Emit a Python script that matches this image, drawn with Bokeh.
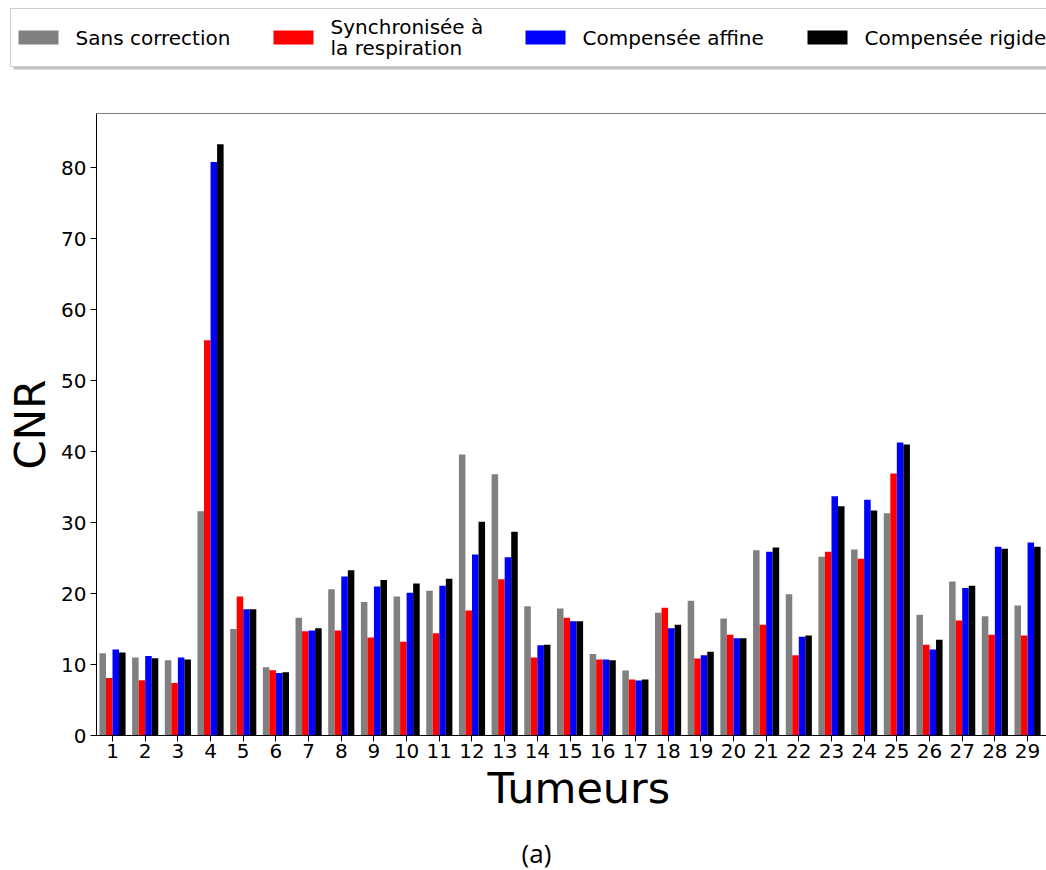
import numpy as np
from bokeh.plotting import figure
from bokeh.layouts import column
from bokeh.models import Range1d, FixedTicker, Span, Title
from bokeh.core.properties import value
from bokeh.embed import file_html
from bokeh.resources import INLINE

# ---------------- data ----------------
tumeurs = list(range(1, 30))
sans_correction = [11.6, 11.0, 10.6, 31.6, 15.0, 9.6, 16.6, 20.6, 18.8, 19.6,
                   20.4, 39.6, 36.8, 18.2, 17.9, 11.5, 9.15, 17.3, 19.0, 16.5,
                   26.1, 19.9, 25.2, 26.2, 31.3, 17.0, 21.7, 16.8, 18.3]
synchronisee = [8.1, 7.8, 7.4, 55.7, 19.6, 9.2, 14.7, 14.8, 13.8, 13.2,
                14.4, 17.6, 22.0, 11.0, 16.6, 10.7, 7.9, 18.0, 10.85, 14.2,
                15.6, 11.3, 25.9, 24.9, 36.9, 12.8, 16.2, 14.2, 14.1]
compensee_affine = [12.1, 11.2, 11.0, 80.8, 17.8, 8.8, 14.8, 22.4, 21.0, 20.1,
                    21.1, 25.5, 25.1, 12.7, 16.1, 10.7, 7.75, 15.1, 11.3, 13.7,
                    25.9, 13.9, 33.7, 33.2, 41.3, 12.1, 20.8, 26.6, 27.2]
compensee_rigide = [11.7, 10.9, 10.7, 83.3, 17.8, 8.9, 15.1, 23.3, 21.9, 21.4,
                    22.1, 30.1, 28.7, 12.8, 16.1, 10.6, 7.9, 15.6, 11.8, 13.7,
                    26.5, 14.1, 32.3, 31.7, 41.0, 13.5, 21.1, 26.3, 26.6]
series_labels = ["Sans correction", "Synchronisée à\nla respiration",
                 "Compensée affine", "Compensée rigide"]
series_colors = ["#808080", "#ff0000", "#0000ff", "#000000"]
y_ticks = [0, 10, 20, 30, 40, 50, 60, 70, 80]
x_label = "Tumeurs"
y_label = "CNR"
caption = "(a)"

FONT = value("DejaVu Sans")
W = 1046

# ---------------- legend strip (page coordinates) ----------------
lf = figure(width=W, height=78, x_range=Range1d(0, W), y_range=Range1d(78, 0),
            x_axis_type=None, y_axis_type=None, output_backend="svg",
            toolbar_location=None, min_border=0)
lf.grid.visible = False
lf.outline_line_color = None
lf.quad(left=[13], right=[1080], top=[11], bottom=[69], fill_color="#9a9a9a",
        fill_alpha=0.6, line_color=None)
lf.quad(left=[10], right=[1078], top=[8], bottom=[66], fill_color="white",
        line_color="#cccccc", line_width=1)
patch_x = [18, 273, 525, 807]
for px, lab, col in zip(patch_x, series_labels, series_colors):
    lf.quad(left=[px], right=[px + 40], top=[30], bottom=[44], fill_color=col, line_color=None)
    lines = lab.split("\n")
    ys = [37] if len(lines) == 1 else [26, 47]
    lf.text(x=[px + 57] * len(lines), y=ys, text=lines, text_font=FONT,
            text_font_size="20px", text_baseline="middle", text_align="left",
            text_color="black")

# ---------------- main chart ----------------
X0, X1 = 0.51, 29.58
Y0, Y1 = 0, 87.64
p = figure(width=W, height=757, x_range=Range1d(X0, X1), y_range=Range1d(Y0, Y1),
           output_backend="svg", toolbar_location=None,
           min_border_left=96, min_border_right=0, min_border_top=35, min_border_bottom=100)
xs = np.array(tumeurs, dtype=float)
offsets = [-0.3, -0.1, 0.1, 0.3]
for off, vals, col in zip(offsets, [sans_correction, synchronisee, compensee_affine, compensee_rigide],
                          series_colors):
    p.vbar(x=xs + off, top=vals, width=0.2, fill_color=col, line_color=None)

p.xgrid.grid_line_color = None
p.ygrid.grid_line_color = None
p.outline_line_color = None
p.add_layout(Span(location=Y1, dimension="width", line_color="black", line_width=1))

p.xaxis.ticker = FixedTicker(ticks=tumeurs)
p.yaxis.ticker = FixedTicker(ticks=y_ticks)
for ax in (p.xaxis, p.yaxis):
    ax.minor_tick_line_color = None
    ax.major_tick_in = 0
    ax.major_tick_out = 6
    ax.major_tick_line_color = "black"
    ax.axis_line_color = "black"
    ax.axis_line_width = 1
    ax.major_label_text_font = "DejaVu Sans"
    ax.major_label_text_font_size = "20px"
    ax.major_label_text_color = "black"
p.xaxis.major_label_standoff = 2
p.yaxis.major_label_standoff = 4
p.yaxis.axis_label = y_label
p.yaxis.axis_label_text_font = "DejaVu Sans"
p.yaxis.axis_label_text_font_size = "42px"
p.yaxis.axis_label_text_font_style = "normal"
p.yaxis.axis_label_text_color = "black"
p.yaxis.axis_label_standoff = 3

p.add_layout(Title(text=x_label, align="left", offset=391, standoff=0,
                   text_font="DejaVu Sans", text_font_size="43px",
                   text_font_style="normal", text_color="black"), "below")

# ---------------- caption strip (page coordinates) ----------------
bf = figure(width=W, height=35, x_range=Range1d(0, W), y_range=Range1d(870, 835),
            x_axis_type=None, y_axis_type=None, output_backend="svg",
            toolbar_location=None, min_border=0)
bf.grid.visible = False
bf.outline_line_color = None
bf.text(x=[536], y=[852], text=[caption], text_font=value("Open Sans"),
        text_font_size="26px", text_baseline="middle", text_align="center",
        text_color="black")

layout = column(column(lf), p, column(bf), spacing=0)
open("out.html", "w").write(file_html(layout, INLINE))
